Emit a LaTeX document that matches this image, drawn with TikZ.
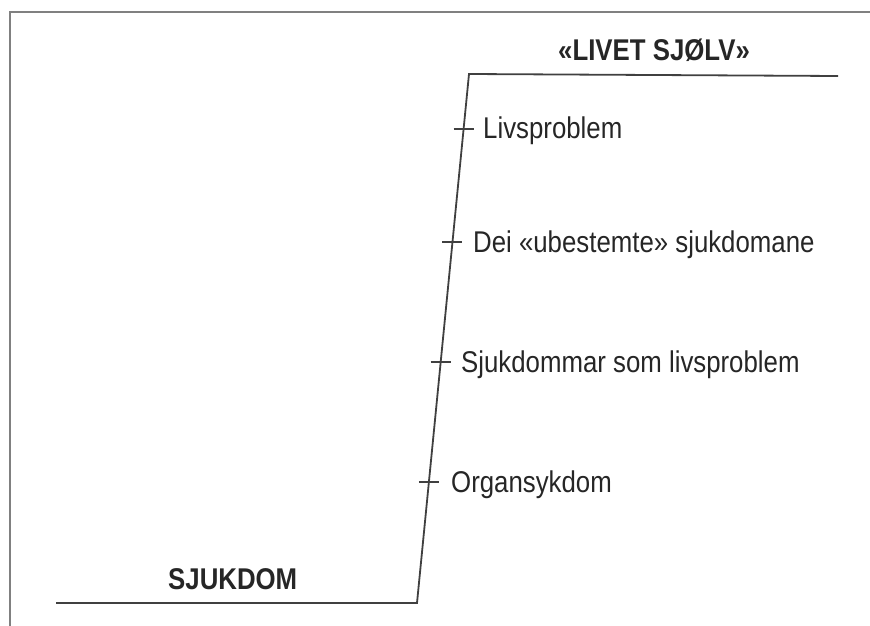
\documentclass[tikz,border=0pt]{standalone}
\usepackage{fontspec}
\setmainfont[FakeStretch=0.86]{Liberation Sans}
\usetikzlibrary{calc}
\begin{document}
\begin{tikzpicture}[x=1pt,y=-1pt,
  frameline/.style={draw=black!50,line width=2.2pt},
  mainline/.style={draw=black!75,line width=1.8pt,line join=miter},
  tickline/.style={draw=black!75,line width=1.5pt},
  lbl/.style={anchor=base west,inner sep=0pt,text=black!85,font=\fontsize{30}{36}\selectfont},
  title/.style={lbl,font=\fontsize{30}{36}\selectfont\bfseries}]
\useasboundingbox (0,0) rectangle (870,626);
% frame
\draw[frameline] (10,627) -- (10,12) -- (871,12);
% main profile
\coordinate (p0) at (56,603);
\coordinate (p1) at (417,603);
\coordinate (p2) at (469,74);
\coordinate (p3) at (838,76);
\draw[mainline] (p0) -- (p1) -- (p2) -- (p3);
% ticks on the slope
\foreach \n/\yy in {t1/129,t2/242,t3/362,t4/482}{
  \coordinate (\n) at ($(p1)!{(603-\yy)/529}!(p2)$);
  \draw[tickline] ($(\n)+(-10,0)$) -- ($(\n)+(10,0)$);
}
% labels
\node[title] (top) at (558,60) {«LIVET SJØLV»};
\node[title] (bot) at (168,589) {SJUKDOM};
\node[lbl] (l1) at (483,138) {Livsproblem};
\node[lbl] (l2) at (473,252) {Dei «ubestemte» sjukdomane};
\node[lbl] (l3) at (461,372) {Sjukdommar som livsproblem};
\node[lbl] (l4) at (451,492) {Organsykdom};
\end{tikzpicture}
\end{document}
